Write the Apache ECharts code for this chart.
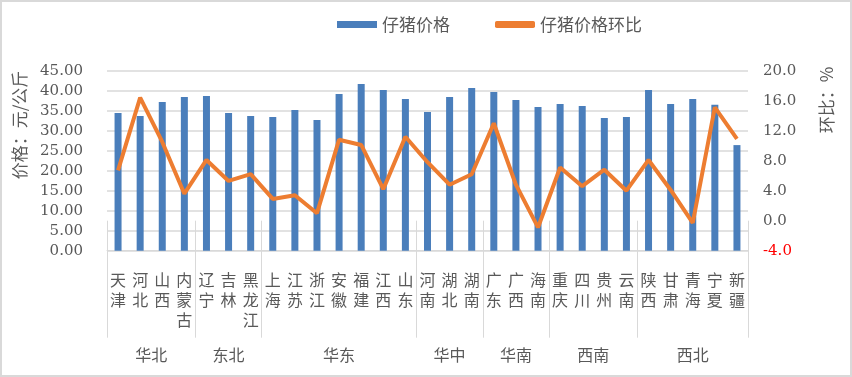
<!DOCTYPE html>
<html>
<head>
<meta charset="utf-8">
<script src="https://cdn.jsdelivr.net/npm/echarts@6/dist/echarts.min.js"></script>
<style>
  html, body { margin: 0; padding: 0; background: #fff; }
  #main { width: 852px; height: 377px; }
</style>
</head>
<body>
<div id="main"></div>
<script>
var provinces = ['天津','河北','山西','内蒙古','辽宁','吉林','黑龙江','上海','江苏','浙江','安徽','福建','江西','山东','河南','湖北','湖南','广东','广西','海南','重庆','四川','贵州','云南','陕西','甘肃','青海','宁夏','新疆'];
var regions = ['华北','东北','华东','华中','华南','西南','西北'];
var regionSizes = [4, 3, 7, 3, 3, 4, 5];
var priceData = [34.4,33.7,37.2,38.4,38.7,34.4,33.7,33.4,35.2,32.7,39.2,41.7,40.2,37.9,34.7,38.4,40.7,39.7,37.7,35.9,36.7,36.2,33.2,33.4,40.2,36.7,37.9,36.5,26.4];
var ratioData = [6.7,16.4,10.5,3.6,8.1,5.3,6.2,2.9,3.4,1.0,10.8,10.1,4.2,11.2,7.8,4.8,6.2,13.0,4.8,-0.9,7.1,4.6,6.8,4.0,8.1,4.1,-0.3,15.1,10.9];

var txt = '#595959';
var gridC = '#d9d9d9';
var numFont = "'DejaVu Serif', serif";

// region boundaries and centers on a 0..n value scale
var bounds = [0], centers = [];
for (var i = 0; i < regionSizes.length; i++) {
    var b = bounds[i] + regionSizes[i];
    centers.push((bounds[i] + b) / 2);
    bounds.push(b);
}

var myChart = echarts.init(document.getElementById('main'));
var option = {
    animation: false,
    textStyle: { fontFamily: 'Noto Sans CJK SC' },
    legend: {
        top: 11,
        left: 332,
        itemWidth: 40,
        itemHeight: 7,
        itemGap: 45,
        textStyle: { color: txt, fontSize: 17 },
        data: [
            { name: '仔猪价格', icon: 'rect' },
            { name: '仔猪价格环比', icon: 'roundRect' }
        ]
    },
    grid: { left: 107, right: 104, top: 70.7, bottom: 126.3 },
    xAxis: [{
        type: 'category',
        data: provinces,
        axisLine: { lineStyle: { color: gridC } },
        axisTick: { show: false },
        axisLabel: {
            interval: 0,
            margin: 19,
            color: txt,
            fontSize: 16,
            lineHeight: 20,
            verticalAlign: 'top',
            formatter: function (v) { return v.split('').join('\n'); }
        }
    }, {
        type: 'value',
        position: 'bottom',
        min: 0,
        max: provinces.length,
        axisLine: { show: false },
        splitLine: { show: false },
        axisTick: {
            show: true,
            length: 117,
            customValues: bounds,
            lineStyle: { color: gridC }
        },
        axisLabel: {
            margin: 96,
            color: txt,
            fontSize: 16,
            customValues: centers,
            formatter: function (v) {
                for (var k = 0; k < centers.length; k++) {
                    if (Math.abs(centers[k] - v) < 0.01) return regions[k];
                }
                return '';
            }
        }
    }],
    yAxis: [{
        type: 'value',
        min: 0,
        max: 45,
        interval: 5,
        axisLine: { show: false },
        axisTick: { show: false },
        splitLine: { lineStyle: { color: gridC, width: 1.5 } },
        axisLabel: {
            margin: 24,
            color: txt,
            fontSize: 15,
            fontFamily: numFont,
            formatter: function (v) { return v.toFixed(2); }
        }
    }, {
        type: 'value',
        min: -4,
        max: 20,
        interval: 4,
        axisLine: { show: false },
        axisTick: { show: false },
        splitLine: { show: false },
        axisLabel: {
            margin: 15,
            fontSize: 15,
            fontFamily: numFont,
            color: function (v) { return Number(v) < 0 ? '#ff0000' : txt; },
            formatter: function (v) { return v.toFixed(1); }
        }
    }],
    graphic: [{
        type: 'text',
        x: 20, y: 125,
        rotation: Math.PI / 2,
        style: { text: '价格：元/公斤', fill: txt, fontSize: 17, align: 'center', verticalAlign: 'middle', fontFamily: 'Noto Sans CJK SC' }
    }, {
        type: 'text',
        x: 827, y: 100,
        rotation: Math.PI / 2,
        style: { text: '环比：%', fill: txt, fontSize: 17, align: 'center', verticalAlign: 'middle', fontFamily: 'Noto Sans CJK SC' }
    }, {
        type: 'rect',
        shape: { x: 1, y: 1, width: 850, height: 375 },
        style: { fill: 'none', stroke: gridC, lineWidth: 2 },
        silent: true
    }],
    series: [{
        name: '仔猪价格',
        type: 'bar',
        xAxisIndex: 0,
        yAxisIndex: 0,
        barWidth: 7,
        itemStyle: { color: '#4a7ebb' },
        data: priceData
    }, {
        name: '仔猪价格环比',
        type: 'line',
        xAxisIndex: 0,
        yAxisIndex: 1,
        symbol: 'none',
        lineStyle: { color: '#ed7d31', width: 4 },
        itemStyle: { color: '#ed7d31' },
        data: ratioData
    }]
};
myChart.setOption(option);
</script>
</body>
</html>
